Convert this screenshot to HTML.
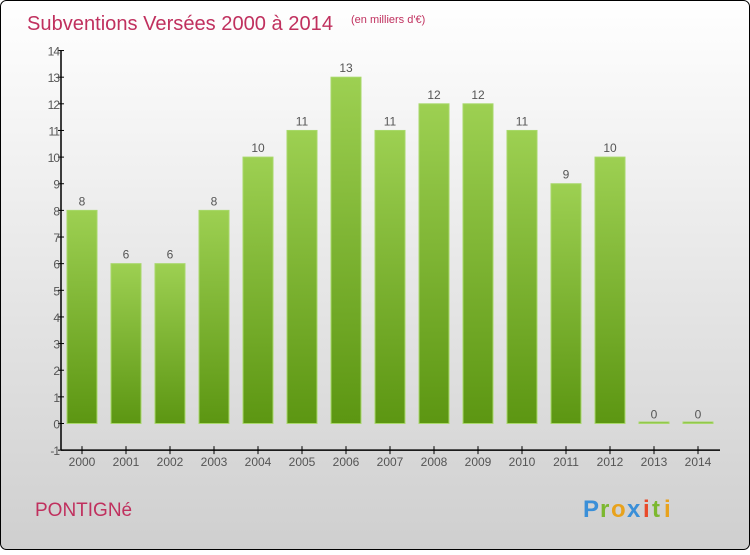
<!DOCTYPE html>
<html><head><meta charset="utf-8"><style>
html,body{margin:0;padding:0;}
body{width:750px;height:550px;overflow:hidden;font-family:"Liberation Sans",sans-serif;}
</style></head><body>
<svg width="750" height="550" xmlns="http://www.w3.org/2000/svg">
<defs>
<linearGradient id="bg" x1="0" y1="0" x2="0" y2="1"><stop offset="0" stop-color="#ffffff"/><stop offset="1" stop-color="#cfcfcf"/></linearGradient>
<linearGradient id="bar" x1="0" y1="0" x2="0" y2="1"><stop offset="0" stop-color="#9dd052"/><stop offset="1" stop-color="#5c9612"/></linearGradient>
</defs>
<rect x="0.5" y="0.5" width="749" height="549" rx="6" fill="url(#bg)" stroke="#000"/>
<text x="27" y="30" font-size="20" fill="#c0305e" textLength="306" lengthAdjust="spacingAndGlyphs">Subventions Versées 2000 à 2014</text>
<text x="351" y="23" font-size="11" fill="#c0305e">(en milliers d'€)</text>
<text x="35" y="516" font-size="19" fill="#c0305e">PONTIGNé</text>
<g font-size="24" font-weight="bold">
<text x="583" y="517" fill="#3a8fd8">P</text><text x="600" y="517" fill="#7cb82f">r</text><text x="611" y="517" fill="#e8a21c">o</text><text x="627" y="517" fill="#3a8fd8">x</text><text x="643" y="517" fill="#e84a2a">i</text><text x="652" y="517" fill="#7cb82f">t</text><text x="664" y="517" fill="#e8a21c">i</text>
</g>
<g id="plot"></g>
</svg>
<script>
const years=["2000","2001","2002","2003","2004","2005","2006","2007","2008","2009","2010","2011","2012","2013","2014"];
const values=[8,6,6,8,10,11,13,11,12,12,11,9,10,0,0];
const yTicks=[-1,0,1,2,3,4,5,6,7,8,9,10,11,12,13,14];
const NS="http://www.w3.org/2000/svg";
const g=document.getElementById('plot');
const y=v=>423.5-(v)*26.64;
const x=i=>82+i*44;
function mk(t,a){const e=document.createElementNS(NS,t);for(const k in a)e.setAttribute(k,a[k]);g.appendChild(e);return e;}
const ax=mk('line',{x1:61,y1:y(14),x2:61,y2:y(-1),stroke:'#000','stroke-width':1.5});


const xa=mk('line',{x1:61,y1:y(-1),x2:720,y2:y(-1),stroke:'#000','stroke-width':1.5});


yTicks.forEach(v=>{
 const t=mk('line',{x1:58,y1:y(v),x2:64,y2:y(v),stroke:'#000'});
 
 
 const l=mk('text',{x:59,y:y(v)+5,'font-size':12,fill:'#555','text-anchor':'end','letter-spacing':'-1'});
 l.textContent=v;
 
 
});
years.forEach((yr,i)=>{
 const v=values[i];
 const top=y(v), h=Math.max(y(0)-top,1.5);
 const b=mk('rect',{x:x(i)-15,y:Math.min(top,y(0)-1.5),width:30,height:h,fill:'url(#bar)',stroke:'#a8d86a','stroke-width':1});
 
 
 const vl=mk('text',{x:x(i),y:top-5,'font-size':12,fill:'#555','text-anchor':'middle'});
 vl.textContent=v;
 
 
 const t=mk('line',{x1:x(i),y1:y(-1)-4,x2:x(i),y2:y(-1)+4,stroke:'#000'});
 
 
 const l=mk('text',{x:x(i),y:y(-1)+16,'font-size':12,fill:'#555','text-anchor':'middle'});
 l.textContent=yr;
 
 
});
</script>
</body></html>
